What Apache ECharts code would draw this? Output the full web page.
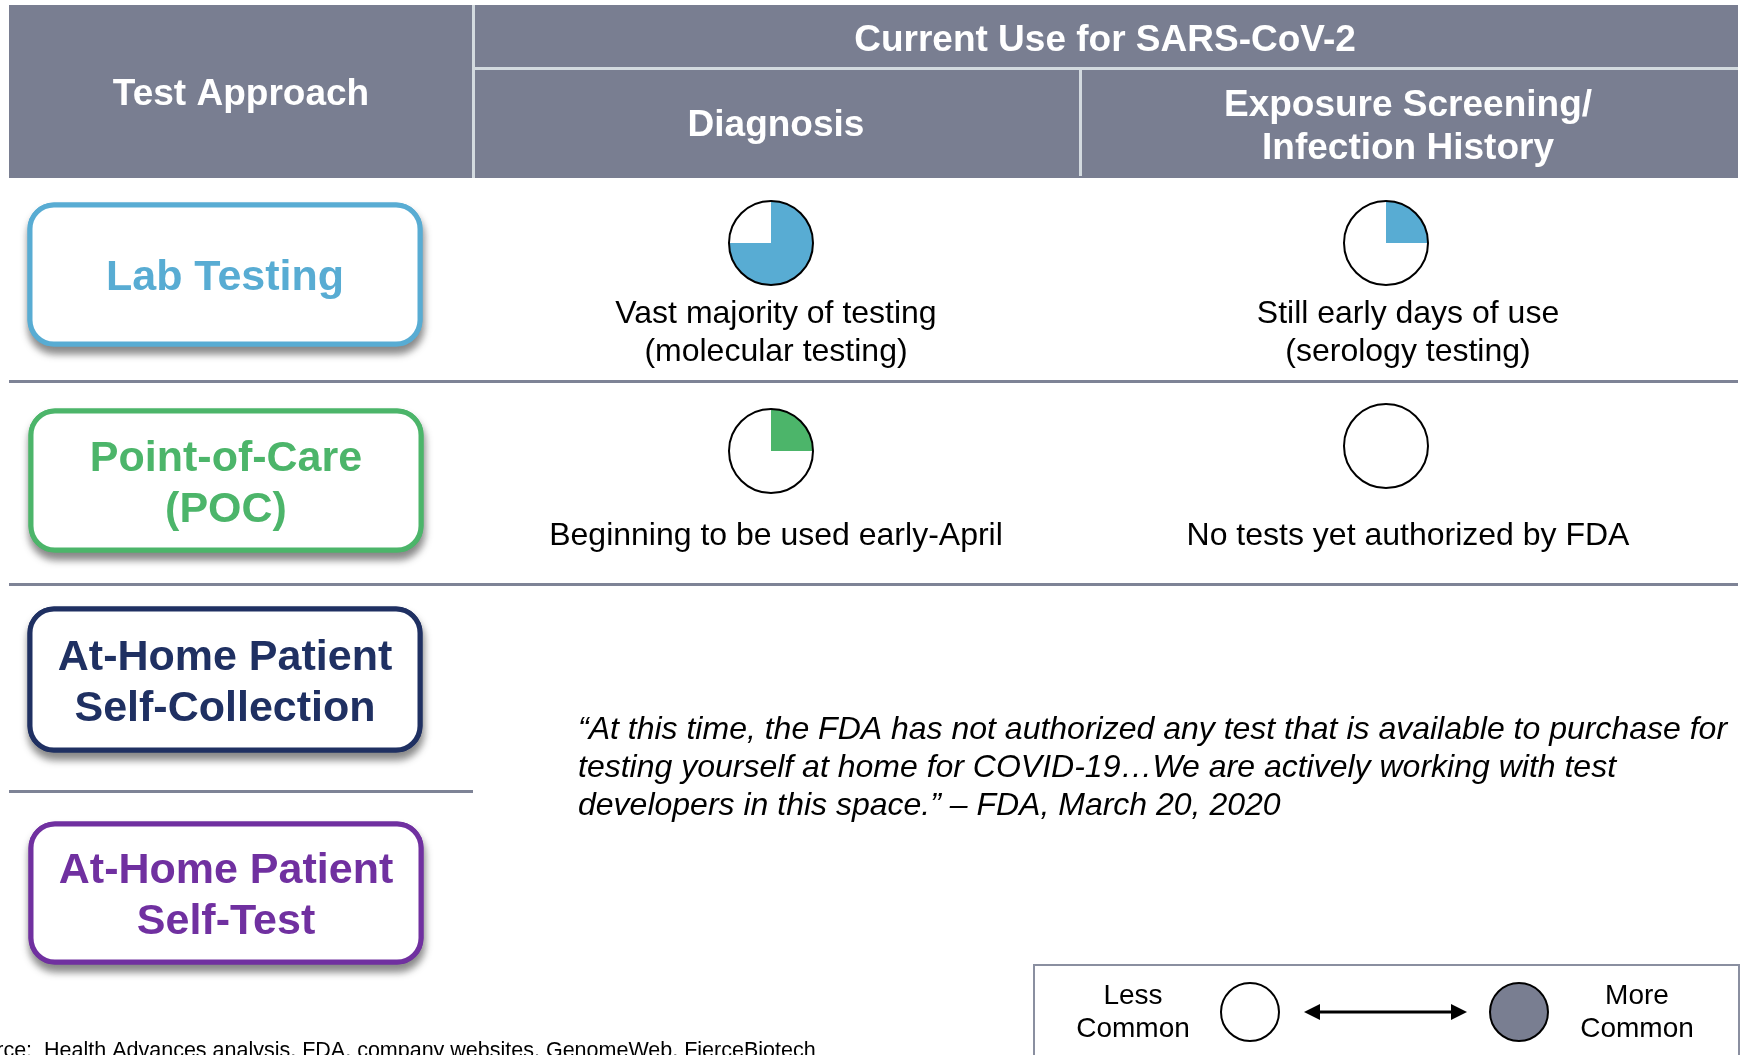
<!DOCTYPE html>
<html>
<head>
<meta charset="utf-8">
<script src="https://cdn.jsdelivr.net/npm/echarts@6/dist/echarts.min.js"></script>
<style>
html,body{margin:0;padding:0;background:#fff;}
#chart{width:1741px;height:1055px;}
</style>
</head>
<body>
<div id="chart"></div>
<script>
// ---- data ----
const headerTitle = 'Test Approach';
const groupTitle = 'Current Use for SARS-CoV-2';
const useColumns = ['Diagnosis', 'Exposure Screening/\nInfection History'];
const approaches = ['Lab Testing', 'Point-of-Care\n(POC)', 'At-Home Patient\nSelf-Collection', 'At-Home Patient\nSelf-Test'];
const approachColors = ['#58acd3', '#4cb56a', '#1f3062', '#7030a0'];
const diagnosisShare = [75, 25];   // Lab, POC (share of circle filled)
const exposureShare = [25, 0];     // Lab, POC
const diagnosisNotes = ['Vast majority of testing\n(molecular testing)', 'Beginning to be used early-April'];
const exposureNotes = ['Still early days of use\n(serology testing)', 'No tests yet authorized by FDA'];
const quoteText = '\u201CAt this time, the FDA has not authorized any test that is available to purchase for\ntesting yourself at home for COVID-19\u2026We are actively working with test\ndevelopers in this space.\u201D \u2013 FDA, March 20, 2020';
const legendLabels = ['Less\nCommon', 'More\nCommon'];
const sourceText = 'Source:  Health Advances analysis, FDA, company websites, GenomeWeb, FierceBiotech';

// ---- layout ----
const FONT = '"Liberation Sans", Arial, sans-serif';
const HEADER = '#797e91';
const SEP = '#7e8396';
const colX = [771, 1386];
const circleY = [[243, 451], [243, 446]]; // [column][row]
const noteY = [[314, 352], [536]];
const boxes = [[30, 205, 390, 139], [31, 411, 390, 139], [30, 609, 390, 141], [31, 824, 390, 138]];
const R = 42;

const chart = echarts.init(document.getElementById('chart'), null, {renderer: 'canvas'});
const g = [];

// header band
g.push({type: 'rect', shape: {x: 9, y: 5, width: 1729, height: 173}, style: {fill: HEADER}, silent: true});
g.push({type: 'rect', shape: {x: 472, y: 5, width: 3, height: 173}, style: {fill: '#d3dadf'}, silent: true});
g.push({type: 'rect', shape: {x: 475, y: 67, width: 1263, height: 3}, style: {fill: '#d3dadf'}, silent: true});
g.push({type: 'rect', shape: {x: 1079, y: 70, width: 3, height: 106}, style: {fill: '#d3dadf'}, silent: true});
g.push({type: 'text', x: 241, y: 95, style: {text: headerTitle, fill: '#fff', font: 'bold 37px ' + FONT, align: 'center', verticalAlign: 'middle'}, silent: true});
g.push({type: 'text', x: 1105, y: 41, style: {text: groupTitle, fill: '#fff', font: 'bold 37px ' + FONT, align: 'center', verticalAlign: 'middle'}, silent: true});
g.push({type: 'text', x: 776, y: 126, style: {text: useColumns[0], fill: '#fff', font: 'bold 37px ' + FONT, align: 'center', verticalAlign: 'middle'}, silent: true});
g.push({type: 'text', x: 1408, y: 127, style: {text: useColumns[1], fill: '#fff', font: 'bold 37px ' + FONT, align: 'center', verticalAlign: 'middle', lineHeight: 43}, silent: true});

// row separators
g.push({type: 'rect', shape: {x: 9, y: 380, width: 1729, height: 3}, style: {fill: SEP}, silent: true});
g.push({type: 'rect', shape: {x: 9, y: 583, width: 1729, height: 3}, style: {fill: SEP}, silent: true});
g.push({type: 'rect', shape: {x: 9, y: 790, width: 464, height: 3}, style: {fill: SEP}, silent: true});

// approach boxes
approaches.forEach((name, i) => {
  const b = boxes[i];
  g.push({type: 'rect', shape: {x: b[0], y: b[1], width: b[2], height: b[3], r: 24},
    style: {fill: '#fff', stroke: approachColors[i], lineWidth: 5, shadowBlur: 8, shadowOffsetY: 7, shadowOffsetX: 1, shadowColor: 'rgba(0,0,0,0.45)'}, silent: true});
  g.push({type: 'rect', shape: {x: b[0], y: b[1], width: b[2], height: b[3], r: 24},
    style: {fill: '#fff', stroke: approachColors[i], lineWidth: 5}, silent: true});
  g.push({type: 'text', x: b[0] + b[2] / 2, y: b[1] + b[3] / 2 + 4, style: {text: name, fill: approachColors[i], font: 'bold 43px ' + FONT, align: 'center', verticalAlign: 'middle', lineHeight: 51}, silent: true});
});

// notes
[diagnosisNotes, exposureNotes].forEach((notes, c) => {
  notes.forEach((t, r) => {
    const lines = t.split('\n');
    lines.forEach((ln, k) => {
      g.push({type: 'text', x: (c === 0 ? 776 : 1408), y: noteY[r][k], style: {text: ln, fill: '#000', font: '32px ' + FONT, align: 'center', verticalAlign: 'middle'}, silent: true});
    });
  });
});

// circle outlines (drawn on top of pies)
const outlines = [];
colX.forEach((cx, c) => circleY[c].forEach((cy) => {
  outlines.push({type: 'circle', shape: {cx: cx, cy: cy, r: R}, style: {fill: null, stroke: '#000', lineWidth: 2}, z: 100, silent: true});
}));

// quote
g.push({type: 'text', x: 578, y: 711, style: {text: quoteText, fill: '#000', font: 'italic 32px ' + FONT, align: 'left', verticalAlign: 'top', lineHeight: 38}, silent: true});

// legend
g.push({type: 'rect', shape: {x: 1034, y: 965, width: 705, height: 100}, style: {fill: '#fff', stroke: '#8a8fa0', lineWidth: 2}, silent: true});
g.push({type: 'text', x: 1133, y: 1013, style: {text: legendLabels[0], fill: '#000', font: '28px ' + FONT, align: 'center', verticalAlign: 'middle', lineHeight: 33}, silent: true});
g.push({type: 'text', x: 1637, y: 1013, style: {text: legendLabels[1], fill: '#000', font: '28px ' + FONT, align: 'center', verticalAlign: 'middle', lineHeight: 33}, silent: true});
g.push({type: 'circle', shape: {cx: 1250, cy: 1012, r: 29}, style: {fill: '#fff', stroke: '#000', lineWidth: 2}, silent: true});
g.push({type: 'circle', shape: {cx: 1519, cy: 1012, r: 29}, style: {fill: HEADER, stroke: '#000', lineWidth: 2}, silent: true});
g.push({type: 'line', shape: {x1: 1318, y1: 1012, x2: 1453, y2: 1012}, style: {stroke: '#000', lineWidth: 3}, silent: true});
g.push({type: 'polygon', shape: {points: [[1304, 1012], [1320, 1004], [1320, 1020]]}, style: {fill: '#000'}, silent: true});
g.push({type: 'polygon', shape: {points: [[1467, 1012], [1451, 1004], [1451, 1020]]}, style: {fill: '#000'}, silent: true});

// source
g.push({type: 'text', x: -42, y: 1040, style: {text: sourceText, fill: '#000', font: '21.5px ' + FONT, align: 'left', verticalAlign: 'top'}, silent: true});

// pies from data
const series = [];
const shares = [diagnosisShare, exposureShare];
shares.forEach((arr, c) => {
  arr.forEach((v, r) => {
    series.push({
      type: 'pie', silent: true, animation: false,
      center: [colX[c], circleY[c][r]], radius: [0, R],
      startAngle: 90, clockwise: true,
      label: {show: false}, labelLine: {show: false},
      itemStyle: {borderWidth: 0},
      emphasis: {disabled: true},
      data: [
        {value: v, itemStyle: {color: approachColors[r]}},
        {value: 100 - v, itemStyle: {color: '#fff'}}
      ]
    });
  });
});

chart.setOption({
  animation: false,
  graphic: {elements: g.concat(outlines)},
  series: series
});
</script>
</body>
</html>
